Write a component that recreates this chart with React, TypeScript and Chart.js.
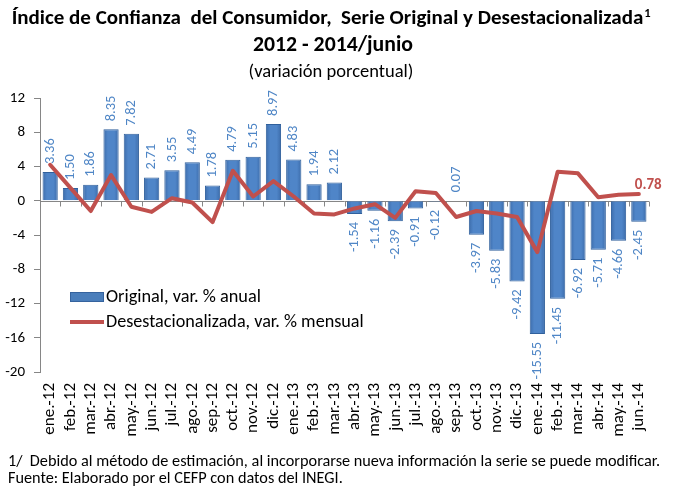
import React, { useEffect, useRef } from "react";
import { Chart, registerables } from "chart.js";

Chart.register(...registerables);

const months = [
  "ene.-12", "feb.-12", "mar.-12", "abr.-12", "may.-12", "jun.-12", "jul.-12", "ago.-12", "sep.-12", "oct.-12", "nov.-12", "dic.-12",
  "ene.-13", "feb.-13", "mar.-13", "abr.-13", "may.-13", "jun.-13", "jul.-13", "ago.-13", "sep.-13", "oct.-13", "nov.-13", "dic.-13",
  "ene.-14", "feb.-14", "mar.-14", "abr.-14", "may.-14", "jun.-14",
];

const original = [
  3.36, 1.5, 1.86, 8.35, 7.82, 2.71, 3.55, 4.49, 1.78, 4.79, 5.15, 8.97,
  4.83, 1.94, 2.12, -1.54, -1.16, -2.39, -0.91, -0.12, 0.07, -3.97, -5.83, -9.42,
  -15.55, -11.45, -6.92, -5.71, -4.66, -2.45,
];

const desestacionalizada = [
  4.2, 1.5, -1.2, 3.0, -0.7, -1.3, 0.3, -0.2, -2.5, 3.5, 0.5, 2.3,
  0.5, -1.5, -1.6, -0.9, -0.4, -2.0, 1.1, 0.9, -1.9, -1.2, -1.5, -1.9,
  -6.0, 3.4, 3.2, 0.4, 0.7, 0.78,
];

const yTicks = { min: -20, max: 12, step: 4 };

const titleLine1 = "Índice de Confianza  del Consumidor,  Serie Original y Desestacionalizada";
const titleLine2 = "2012 - 2014/junio";
const subtitle = "(variación porcentual)";
const legendLabels = ["Original, var. % anual", "Desestacionalizada, var. % mensual"];
const footnote1 = "1/  Debido al método de estimación, al incorporarse nueva información la serie se puede modificar.";
const footnote2 = "Fuente: Elaborado por el CEFP con datos del INEGI.";

const FONT = "Carlito, Lato, 'Open Sans', sans-serif";
const BAR_BLUE = "#4a7ebb";
const LABEL_BLUE = "#4f86c6";
const RED = "#c0504d";

function fitFont(ctx: CanvasRenderingContext2D, text: string, weight: string, size: number, target: number) {
  ctx.font = `${weight} ${size}px ${FONT}`;
  const w = ctx.measureText(text).width;
  const s = Math.min(size * 1.3, Math.max(size * 0.8, (size * target) / w));
  ctx.font = `${weight} ${s}px ${FONT}`;
  return s;
}

const textPlugin = {
  id: "texts",
  afterDraw(chart: any) {
    const ctx: CanvasRenderingContext2D = chart.ctx;
    ctx.save();
    ctx.fillStyle = "#000";
    ctx.textBaseline = "middle";
    const s1 = fitFont(ctx, titleLine1, "bold", 17, 632);
    const w1 = ctx.measureText(titleLine1).width;
    const cx = 331;
    const x1 = cx - (w1 + 7) / 2;
    ctx.textAlign = "left";
    ctx.fillText(titleLine1, x1, 19);
    ctx.font = `bold ${s1 * 0.6}px ${FONT}`;
    ctx.fillText("1", x1 + w1 + 1, 14);
    ctx.textAlign = "center";
    fitFont(ctx, titleLine2, "bold", 18, 160);
    ctx.fillText(titleLine2, 333, 46);
    fitFont(ctx, subtitle, "normal", 15, 165);
    ctx.fillText(subtitle, 331, 72);
    ctx.textAlign = "left";
    fitFont(ctx, footnote1, "normal", 14, 652);
    ctx.fillText(footnote1, 8, 462);
    fitFont(ctx, footnote2, "normal", 14, 335);
    ctx.fillText(footnote2, 8, 479);
    // Legend
    ctx.fillStyle = BAR_BLUE;
    ctx.fillRect(70, 292, 34, 10);
    ctx.strokeStyle = "#35639e";
    ctx.lineWidth = 1;
    ctx.strokeRect(70.5, 292.5, 33, 9);
    ctx.strokeStyle = RED;
    ctx.lineWidth = 4;
    ctx.beginPath();
    ctx.moveTo(70, 322);
    ctx.lineTo(104, 322);
    ctx.stroke();
    ctx.fillStyle = "#000";
    fitFont(ctx, legendLabels[0], "normal", 16, 155);
    ctx.fillText(legendLabels[0], 106, 297);
    fitFont(ctx, legendLabels[1], "normal", 16, 258);
    ctx.fillText(legendLabels[1], 106, 322);
    ctx.restore();
  },
};

const zeroLinePlugin = {
  id: "zeroLine",
  beforeDatasetsDraw(chart: any) {
    const ctx: CanvasRenderingContext2D = chart.ctx;
    const { left, right } = chart.chartArea;
    const y = Math.round(chart.scales.y.getPixelForValue(0)) + 0.5;
    ctx.save();
    ctx.strokeStyle = "#868686";
    ctx.lineWidth = 1;
    ctx.beginPath();
    ctx.moveTo(left, y);
    ctx.lineTo(right, y);
    const n = months.length;
    const step = (right - left) / n;
    for (let i = 0; i <= n; i++) {
      const x = Math.round(left + step * i) + 0.5;
      ctx.moveTo(x, y);
      ctx.lineTo(x, y + 5);
    }
    ctx.stroke();
    ctx.restore();
  },
};

const dataLabelPlugin = {
  id: "dataLabels",
  afterDatasetsDraw(chart: any) {
    const ctx: CanvasRenderingContext2D = chart.ctx;
    const meta = chart.getDatasetMeta(0);
    ctx.save();
    ctx.font = `normal 14.5px ${FONT}`;
    ctx.fillStyle = LABEL_BLUE;
    ctx.textBaseline = "middle";
    meta.data.forEach((el: any, i: number) => {
      const v = original[i];
      const txt = v.toFixed(2);
      ctx.save();
      if (v >= 0) {
        ctx.translate(el.x, el.y - 8);
        ctx.rotate(-Math.PI / 2);
        ctx.textAlign = "left";
      } else {
        ctx.translate(el.x, el.y + 8);
        ctx.rotate(-Math.PI / 2);
        ctx.textAlign = "right";
      }
      ctx.fillText(txt, 0, 0);
      ctx.restore();
    });
    const lm = chart.getDatasetMeta(1);
    const last = lm.data[lm.data.length - 1];
    ctx.font = `bold 15px ${FONT}`;
    ctx.fillStyle = RED;
    ctx.textAlign = "left";
    ctx.textBaseline = "bottom";
    ctx.fillText(desestacionalizada[desestacionalizada.length - 1].toFixed(2), last.x - 4, last.y - 1);
    ctx.restore();
  },
};

export default function App() {
  const ref = useRef<HTMLCanvasElement>(null);
  useEffect(() => {
    if (!ref.current) return;
    const chart = new Chart(ref.current, {
      type: "bar",
      data: {
        labels: months,
        datasets: [
          {
            type: "bar",
            label: legendLabels[0],
            data: original,
            order: 2,
            backgroundColor: (c: any) => {
              const ch = c.chart;
              if (!ch.chartArea || c.dataIndex === undefined) return BAR_BLUE;
              const x = ch.scales.x.getPixelForValue(c.dataIndex);
              const g = ch.ctx.createLinearGradient(x - 8, 0, x + 8, 0);
              g.addColorStop(0, "#3b6aa8");
              g.addColorStop(0.3, "#4f85c8");
              g.addColorStop(0.7, "#4f85c8");
              g.addColorStop(1, "#3b6aa8");
              return g;
            },
            borderColor: "#30609c",
            borderWidth: 1,
            barPercentage: 0.75,
            categoryPercentage: 1,
          },
          {
            type: "line",
            label: legendLabels[1],
            data: desestacionalizada,
            order: 1,
            borderColor: RED,
            borderWidth: 4,
            pointRadius: 0,
            tension: 0,
            borderJoinStyle: "round",
            borderCapStyle: "round",
          } as any,
        ],
      },
      options: {
        animation: false,
        responsive: false,
        maintainAspectRatio: false,
        layout: { padding: { top: 98, right: 29, bottom: 0, left: 0 } },
        plugins: {
          legend: { display: false },
          tooltip: { enabled: false },
          title: { display: false },
        },
        scales: {
          x: {
            grid: { display: false, drawTicks: false },
            border: { display: false },
            ticks: {
              minRotation: 90,
              maxRotation: 90,
              autoSkip: false,
              padding: 11,
              color: "#000",
              font: { family: FONT, size: 17 },
            },
            afterFit: (s: any) => {
              s.height = 115;
            },
          },
          y: {
            min: yTicks.min,
            max: yTicks.max,
            ticks: {
              stepSize: yTicks.step,
              padding: 9,
              color: "#000",
              font: { family: FONT, size: 15 },
            },
            grid: {
              display: true,
              drawOnChartArea: false,
              drawTicks: true,
              tickLength: 6,
              color: "#868686",
            },
            border: { display: true, color: "#868686" },
            afterFit: (s: any) => {
              s.width = 40;
            },
          },
        },
      },
      plugins: [zeroLinePlugin, dataLabelPlugin, textPlugin],
    });
    return () => chart.destroy();
  }, []);
  return (
    <div style={{ position: "fixed", left: 0, top: 0, width: 678, height: 487, background: "#fff" }}>
      <canvas ref={ref} width={678} height={487} style={{ width: 678, height: 487 }} />
    </div>
  );
}
